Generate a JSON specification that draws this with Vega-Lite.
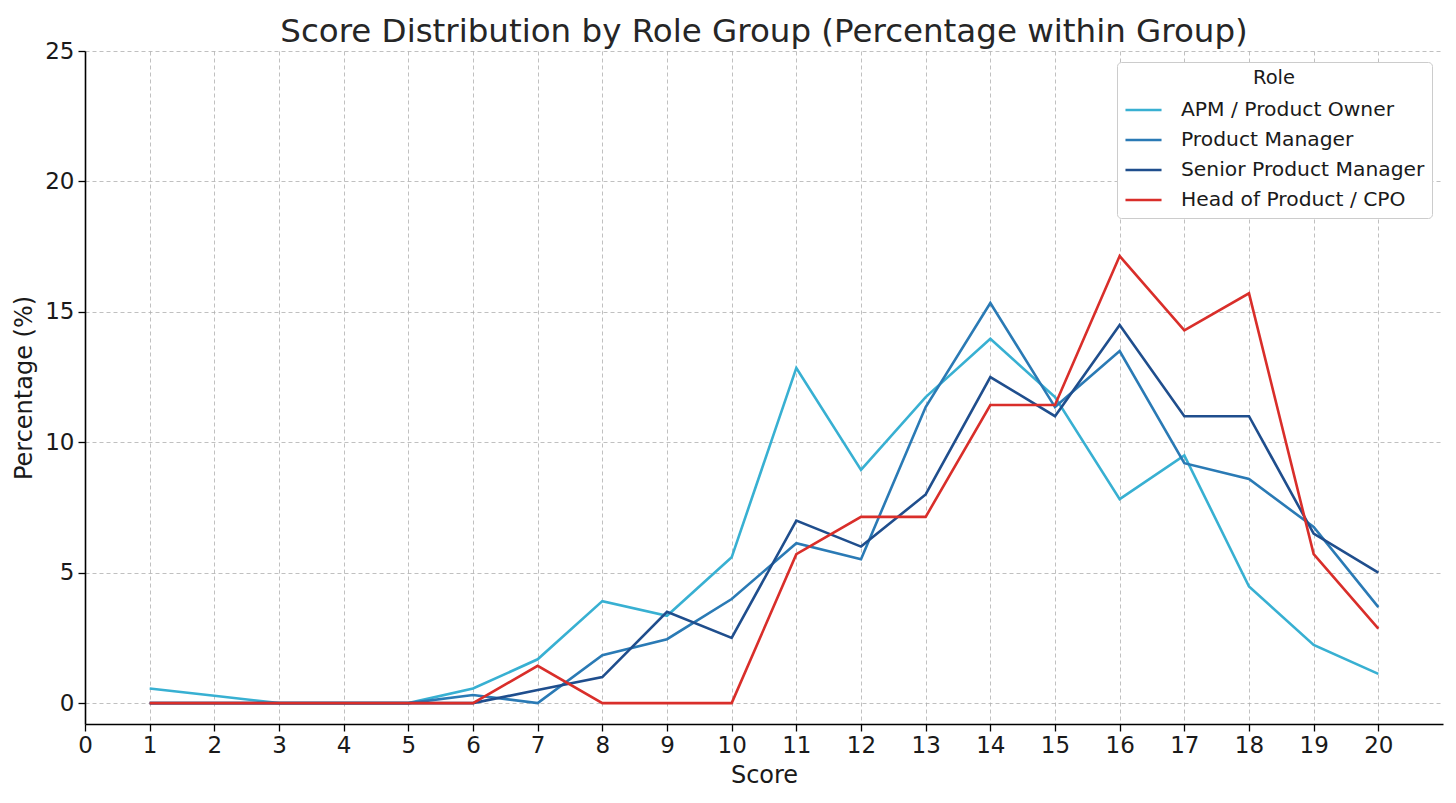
{
  "$schema": "https://vega.github.io/schema/vega-lite/v6.json",
  "width": 1358,
  "height": 673,
  "autosize": "none",
  "padding": {"left": 85, "top": 51, "right": 13, "bottom": 79},
  "background": "white",
  "title": {"text": "Score Distribution by Role Group (Percentage within Group)", "font": "DejaVu Sans", "fontSize": 32.5, "fontWeight": "normal", "color": "#262626", "anchor": "middle", "offset": -8},
  "config": {
    "view": {"stroke": null},
    "font": "DejaVu Sans"
  },
  "data": {"values": [
    {"score": 1, "pct": 0.56, "role": "APM / Product Owner"},
    {"score": 2, "pct": 0.28, "role": "APM / Product Owner"},
    {"score": 3, "pct": 0, "role": "APM / Product Owner"},
    {"score": 4, "pct": 0, "role": "APM / Product Owner"},
    {"score": 5, "pct": 0, "role": "APM / Product Owner"},
    {"score": 6, "pct": 0.56, "role": "APM / Product Owner"},
    {"score": 7, "pct": 1.68, "role": "APM / Product Owner"},
    {"score": 8, "pct": 3.91, "role": "APM / Product Owner"},
    {"score": 9, "pct": 3.35, "role": "APM / Product Owner"},
    {"score": 10, "pct": 5.59, "role": "APM / Product Owner"},
    {"score": 11, "pct": 12.85, "role": "APM / Product Owner"},
    {"score": 12, "pct": 8.94, "role": "APM / Product Owner"},
    {"score": 13, "pct": 11.73, "role": "APM / Product Owner"},
    {"score": 14, "pct": 13.97, "role": "APM / Product Owner"},
    {"score": 15, "pct": 11.73, "role": "APM / Product Owner"},
    {"score": 16, "pct": 7.82, "role": "APM / Product Owner"},
    {"score": 17, "pct": 9.50, "role": "APM / Product Owner"},
    {"score": 18, "pct": 4.47, "role": "APM / Product Owner"},
    {"score": 19, "pct": 2.23, "role": "APM / Product Owner"},
    {"score": 20, "pct": 1.12, "role": "APM / Product Owner"},

    {"score": 1, "pct": 0, "role": "Product Manager"},
    {"score": 2, "pct": 0, "role": "Product Manager"},
    {"score": 3, "pct": 0, "role": "Product Manager"},
    {"score": 4, "pct": 0, "role": "Product Manager"},
    {"score": 5, "pct": 0, "role": "Product Manager"},
    {"score": 6, "pct": 0.31, "role": "Product Manager"},
    {"score": 7, "pct": 0, "role": "Product Manager"},
    {"score": 8, "pct": 1.84, "role": "Product Manager"},
    {"score": 9, "pct": 2.45, "role": "Product Manager"},
    {"score": 10, "pct": 3.99, "role": "Product Manager"},
    {"score": 11, "pct": 6.13, "role": "Product Manager"},
    {"score": 12, "pct": 5.52, "role": "Product Manager"},
    {"score": 13, "pct": 11.35, "role": "Product Manager"},
    {"score": 14, "pct": 15.34, "role": "Product Manager"},
    {"score": 15, "pct": 11.35, "role": "Product Manager"},
    {"score": 16, "pct": 13.50, "role": "Product Manager"},
    {"score": 17, "pct": 9.20, "role": "Product Manager"},
    {"score": 18, "pct": 8.59, "role": "Product Manager"},
    {"score": 19, "pct": 6.75, "role": "Product Manager"},
    {"score": 20, "pct": 3.68, "role": "Product Manager"},

    {"score": 1, "pct": 0, "role": "Senior Product Manager"},
    {"score": 2, "pct": 0, "role": "Senior Product Manager"},
    {"score": 3, "pct": 0, "role": "Senior Product Manager"},
    {"score": 4, "pct": 0, "role": "Senior Product Manager"},
    {"score": 5, "pct": 0, "role": "Senior Product Manager"},
    {"score": 6, "pct": 0, "role": "Senior Product Manager"},
    {"score": 7, "pct": 0.5, "role": "Senior Product Manager"},
    {"score": 8, "pct": 1.0, "role": "Senior Product Manager"},
    {"score": 9, "pct": 3.5, "role": "Senior Product Manager"},
    {"score": 10, "pct": 2.5, "role": "Senior Product Manager"},
    {"score": 11, "pct": 7.0, "role": "Senior Product Manager"},
    {"score": 12, "pct": 6.0, "role": "Senior Product Manager"},
    {"score": 13, "pct": 8.0, "role": "Senior Product Manager"},
    {"score": 14, "pct": 12.5, "role": "Senior Product Manager"},
    {"score": 15, "pct": 11.0, "role": "Senior Product Manager"},
    {"score": 16, "pct": 14.5, "role": "Senior Product Manager"},
    {"score": 17, "pct": 11.0, "role": "Senior Product Manager"},
    {"score": 18, "pct": 11.0, "role": "Senior Product Manager"},
    {"score": 19, "pct": 6.5, "role": "Senior Product Manager"},
    {"score": 20, "pct": 5.0, "role": "Senior Product Manager"},

    {"score": 1, "pct": 0, "role": "Head of Product / CPO"},
    {"score": 2, "pct": 0, "role": "Head of Product / CPO"},
    {"score": 3, "pct": 0, "role": "Head of Product / CPO"},
    {"score": 4, "pct": 0, "role": "Head of Product / CPO"},
    {"score": 5, "pct": 0, "role": "Head of Product / CPO"},
    {"score": 6, "pct": 0, "role": "Head of Product / CPO"},
    {"score": 7, "pct": 1.43, "role": "Head of Product / CPO"},
    {"score": 8, "pct": 0, "role": "Head of Product / CPO"},
    {"score": 9, "pct": 0, "role": "Head of Product / CPO"},
    {"score": 10, "pct": 0, "role": "Head of Product / CPO"},
    {"score": 11, "pct": 5.71, "role": "Head of Product / CPO"},
    {"score": 12, "pct": 7.14, "role": "Head of Product / CPO"},
    {"score": 13, "pct": 7.14, "role": "Head of Product / CPO"},
    {"score": 14, "pct": 11.43, "role": "Head of Product / CPO"},
    {"score": 15, "pct": 11.43, "role": "Head of Product / CPO"},
    {"score": 16, "pct": 17.14, "role": "Head of Product / CPO"},
    {"score": 17, "pct": 14.29, "role": "Head of Product / CPO"},
    {"score": 18, "pct": 15.71, "role": "Head of Product / CPO"},
    {"score": 19, "pct": 5.71, "role": "Head of Product / CPO"},
    {"score": 20, "pct": 2.86, "role": "Head of Product / CPO"}
  ]},
  "mark": {"type": "line", "strokeWidth": 2.6, "clip": true},
  "encoding": {
    "x": {
      "field": "score", "type": "quantitative", "title": "Score",
      "scale": {"domain": [0, 21], "nice": false, "zero": false},
      "axis": {
        "values": [0,1,2,3,4,5,6,7,8,9,10,11,12,13,14,15,16,17,18,19,20],
        "format": "d",
        "labelFont": "DejaVu Sans", "labelFontSize": 23, "labelColor": "#1a1a1a", "labelPadding": 3,
        "titleFont": "DejaVu Sans", "titleFontSize": 24, "titleFontWeight": "normal", "titleColor": "#1a1a1a", "titlePadding": 6,
        "domainColor": "#000000", "domainWidth": 1.6,
        "tickColor": "#000000", "tickSize": 7, "tickWidth": 1.3,
        "grid": true, "gridColor": "#b0b0b0", "gridDash": [4, 3], "gridWidth": 0.8,
        "labelFlush": false
      }
    },
    "y": {
      "field": "pct", "type": "quantitative", "title": "Percentage (%)",
      "scale": {"domain": [-0.8, 25], "nice": false, "zero": false},
      "axis": {
        "values": [0, 5, 10, 15, 20, 25],
        "labelFont": "DejaVu Sans", "labelFontSize": 23, "labelColor": "#1a1a1a", "labelPadding": 4,
        "titleFont": "DejaVu Sans", "titleFontSize": 24, "titleFontWeight": "normal", "titleColor": "#1a1a1a", "titlePadding": 8,
        "domainColor": "#000000", "domainWidth": 1.6,
        "tickColor": "#000000", "tickSize": 7, "tickWidth": 1.3,
        "grid": true, "gridColor": "#b0b0b0", "gridDash": [4, 3], "gridWidth": 0.8,
        "labelFlush": false
      }
    },
    "color": {
      "field": "role", "type": "nominal", "title": "Role",
      "scale": {
        "domain": ["APM / Product Owner", "Product Manager", "Senior Product Manager", "Head of Product / CPO"],
        "range": ["#38b0d2", "#2a7ab5", "#1f4e8d", "#d92e2a"]
      },
      "legend": {
        "orient": "top-right", "offset": 11,
        "titleFont": "DejaVu Sans", "titleFontSize": 19.5, "titleFontWeight": "normal", "titleColor": "#1a1a1a", "titleAnchor": "middle", "titlePadding": 2,
        "labelFont": "DejaVu Sans", "labelFontSize": 20.3, "labelColor": "#1a1a1a", "labelOffset": 18, "labelLimit": 500,
        "symbolType": "stroke", "symbolStrokeWidth": 2.6, "symbolSize": 1300,
        "rowPadding": 0,
        "padding": 7,
        "fillColor": "white", "strokeColor": "#cccccc", "cornerRadius": 4
      }
    }
  }
}
